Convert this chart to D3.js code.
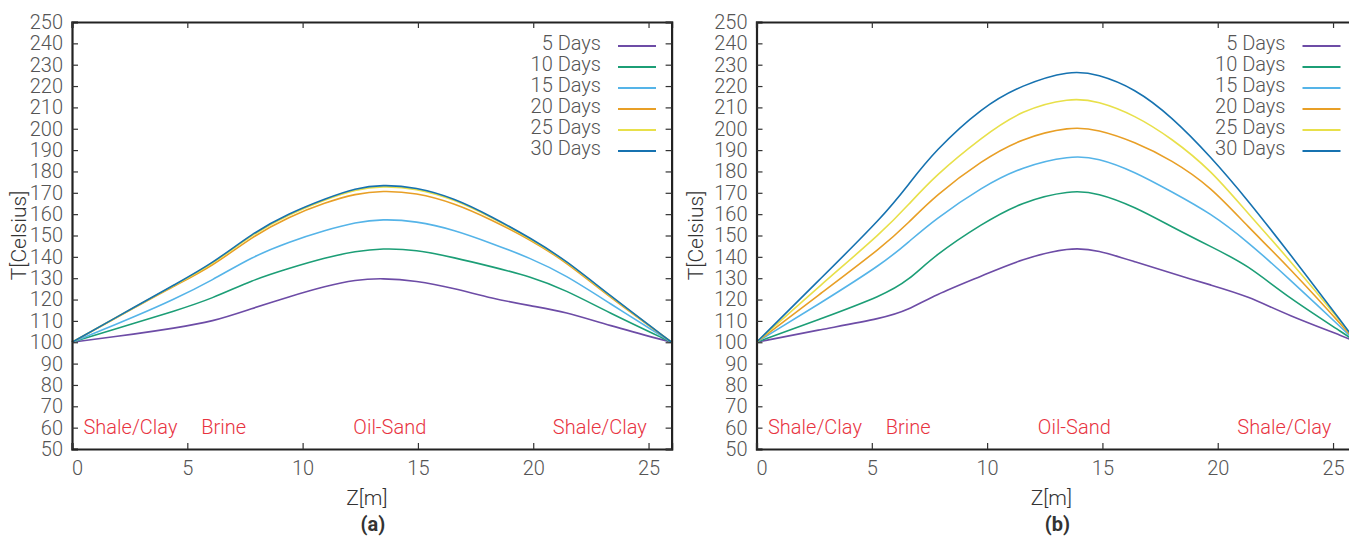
<!DOCTYPE html>
<html>
<head>
<meta charset="utf-8">
<script src="https://cdn.jsdelivr.net/npm/d3@7"></script>
<style>
  html, body { margin: 0; padding: 0; background: #fff; }
  svg { display: block; font-family: Roboto, "Noto Sans", sans-serif; }
</style>
</head>
<body>
<svg id="chart" width="1349" height="538"></svg>
<script>
// ---- data ----
const seriesNames = ["5 Days", "10 Days", "15 Days", "20 Days", "25 Days", "30 Days"];
const seriesColors = ["#6d4ca6", "#1c9e76", "#55b4e8", "#e89f26", "#e8e04a", "#1672b0"];

// panel (a)
const zA  = [0, 2.9, 4.35, 6.1, 7.8, 9.4, 11.0, 12.3, 13.45, 14.9, 16.6, 18.2, 19.9, 21.4, 23.2, 26];
const a5  = [100, 104.1, 106.5, 109.6, 115.8, 121.3, 126.3, 129.3, 130.0, 128.9, 125.2, 120.6, 117.0, 114.3, 108.1, 100];
const a10 = [100, 109.6, 114.3, 120.5, 129.1, 134.6, 139.7, 142.6, 144.0, 143.4, 139.6, 135.4, 130.7, 124.5, 114.3, 100];
const a15 = [100, 112.8, 119.7, 129.1, 140.0, 147.0, 152.5, 156.2, 157.7, 156.8, 152.6, 146.3, 139.3, 131.5, 119.0, 100];
const a20 = [100, 117.3, 125.9, 135.6, 149.4, 158.8, 165.5, 169.6, 171.0, 170.1, 165.1, 157.3, 147.9, 137.8, 122.1, 100];
const a25 = [100, 117.5, 126.2, 136.5, 150.5, 159.9, 166.9, 171.6, 173.2, 172.2, 166.9, 158.4, 148.4, 138.3, 122.6, 100];
const a30 = [100, 117.6, 126.4, 136.9, 151.0, 160.3, 167.3, 172.2, 173.8, 172.7, 167.4, 158.8, 148.7, 138.5, 122.9, 100];

// panel (b)
const zB  = [0, 2.8, 5.5, 6.6, 7.7, 9.8, 11.5, 13.6, 14.8, 16.4, 18.0, 19.7, 21.3, 23.0, 25.7, 26];
const b5  = [100, 106.0, 111.3, 115.2, 122.0, 131.2, 139.0, 144.6, 143.2, 137.7, 132.3, 126.8, 121.7, 112.8, 101.8, 100];
const b10 = [100, 111.0, 122.0, 129.0, 140.5, 155.7, 165.8, 171.3, 170.0, 163.5, 154.1, 144.8, 136.2, 121.3, 102.6, 100];
const b15 = [100, 118.5, 137.0, 147.0, 157.3, 172.9, 182.2, 187.5, 186.4, 179.9, 170.5, 160.4, 147.1, 130.7, 103.4, 100];
const b20 = [100, 123.0, 145.0, 156.0, 168.2, 185.4, 195.5, 201.1, 199.7, 193.9, 185.4, 172.9, 154.1, 136.2, 104.2, 100];
const b25 = [100, 127.0, 152.0, 164.5, 177.6, 196.3, 208.8, 214.6, 213.0, 206.4, 195.5, 180.7, 160.4, 140.1, 105.0, 100];
const b30 = [100, 130.0, 159.0, 174.0, 189.3, 210.3, 220.5, 227.5, 225.6, 218.9, 205.7, 186.9, 166.6, 143.2, 105.0, 100];

const xTicks = [0, 5, 10, 15, 20, 25];
const yTicks = d3.range(50, 251, 10);
const layerNames = ["Shale/Clay", "Brine", "Oil-Sand", "Shale/Clay"];
const layerZ = [0.5, 5.6, 12.2, 20.85];
const panelLabels = ["(a)", "(b)"];

// ---- drawing ----
const svg = d3.select("#chart");
const plotTop = 22, plotBottom = 449, plotW = 599.6;

function drawPanel(left, zs, series, label, titleX) {
  const x = d3.scaleLinear().domain([0, 26]).range([left, left + plotW]);
  const y = d3.scaleLinear().domain([50, 250]).range([plotBottom, plotTop]);
  const g = svg.append("g");

  const line = d3.line()
    .x(d => x(d[0])).y(d => y(d[1]))
    .curve(d3.curveBasis);
  series.forEach((vals, i) => {
    g.append("path")
      .datum(zs.map((z, k) => [z, vals[k]]))
      .attr("d", line)
      .attr("fill", "none")
      .attr("stroke", seriesColors[i])
      .attr("stroke-width", 1.6);
  });

  const axisColor = "#222";
  const yAxis = g.append("g").attr("transform", `translate(${left},0)`)
    .call(d3.axisLeft(y).tickValues(yTicks).tickSize(-6).tickPadding(9).tickFormat(d3.format("d")));
  const xAxis = g.append("g").attr("transform", `translate(0,${plotBottom})`)
    .call(d3.axisBottom(x).tickValues(xTicks).tickSize(-6).tickPadding(12).tickFormat(d3.format("d")));
  const tAxis = g.append("g").attr("transform", `translate(0,${plotTop})`)
    .call(d3.axisTop(x).tickValues(xTicks).tickSize(-6).tickFormat(""));
  const rAxis = g.append("g").attr("transform", `translate(${left + plotW},0)`)
    .call(d3.axisRight(y).tickValues(yTicks).tickSize(-6).tickFormat(""));

  [yAxis, xAxis, tAxis, rAxis].forEach(a => {
    a.select(".domain").attr("stroke", axisColor).attr("stroke-width", 2.2);
    a.selectAll(".tick line").attr("stroke", "#333").attr("stroke-width", 1.2);
    a.selectAll("text").attr("fill", "#555").attr("font-size", 20)
      .attr("font-family", "Roboto").attr("font-weight", 300);
  });
  xAxis.selectAll(".tick").filter(d => d === 0).select("text").attr("dx", 5);

  layerNames.forEach((n, i) => {
    g.append("text").attr("x", x(layerZ[i])).attr("y", 434)
      .attr("fill", "#e8333f").attr("font-size", 20).attr("font-weight", 300)
      .text(n);
  });

  seriesNames.forEach((n, i) => {
    const by = plotTop + 28 + 21 * i;
    g.append("text").attr("x", left + 529).attr("y", by)
      .attr("text-anchor", "end").attr("fill", "#555")
      .attr("font-size", 20).attr("font-weight", 300).text(n);
    g.append("line")
      .attr("x1", left + 546).attr("x2", left + 584)
      .attr("y1", by - 4).attr("y2", by - 4)
      .attr("stroke", seriesColors[i]).attr("stroke-width", 2);
  });

  const cx = left + plotW / 2;
  g.append("text").attr("x", cx - 5).attr("y", 505).attr("text-anchor", "middle")
    .attr("fill", "#333").attr("font-size", 21).attr("font-weight", 300).text("Z[m]");
  g.append("text").attr("transform", `translate(${titleX},${(plotTop + plotBottom) / 2}) rotate(-90)`)
    .attr("text-anchor", "middle").attr("fill", "#333").attr("font-size", 21)
    .attr("font-weight", 300).text("T[Celsius]");
  g.append("text").attr("x", cx + 1).attr("y", 531).attr("text-anchor", "middle")
    .attr("fill", "#333").attr("font-size", 20).attr("font-weight", 700).text(label);
}

drawPanel(72, zA, [a5, a10, a15, a20, a25, a30], panelLabels[0], 26);
drawPanel(756.5, zB, [b5, b10, b15, b20, b25, b30], panelLabels[1], 703);
</script>
</body>
</html>
